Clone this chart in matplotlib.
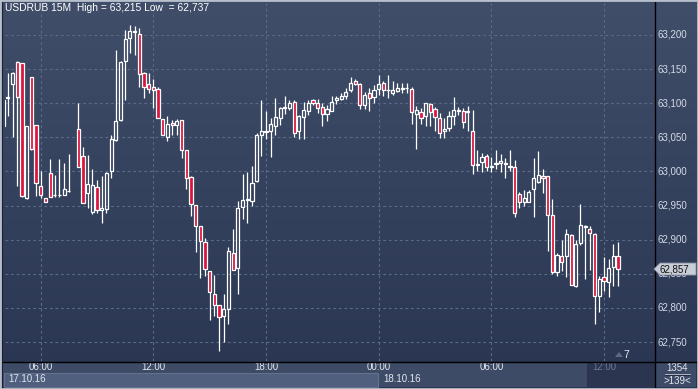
"""
USDRUB 15M candlestick chart, 17.10.16 - 18.10.16
"""

import numpy as np
import matplotlib.pyplot as plt
from matplotlib.patches import Rectangle, Polygon
from matplotlib.lines import Line2D
from matplotlib.transforms import blended_transform_factory

nan = np.nan

opens = [63.104, 63.108, 63.128, 63.161, 63.159, 62.961, 63.138, 63.068, 62.979, 62.961,
         62.998, 62.965, 62.965, 62.965, 62.971, nan, 63.062, 63.023, 62.968, 62.941,
         62.977, 62.944, 62.945, 63.000, 63.046, 63.075, 63.162, 63.195, 63.205, 63.202,
         63.144, 63.128, 63.124, 63.121, 63.077, 63.050, 63.071, 63.068, 63.076, 63.031,
         62.992, 62.951, 62.920, 62.897, 62.854, 62.821, 62.804, 62.788, 62.799, 62.881,
         62.859, 62.948, 62.958, 62.956, 62.986, 63.054, 63.058, 63.059, 63.067, 63.078,
         63.093, 63.093, 63.102, 63.059, 63.080, 63.089, 63.104, 63.100, 63.094, 63.084,
         63.089, 63.104, 63.106, 63.110, 63.119, 63.132, 63.128, 63.098, 63.115, 63.109,
         63.121, 63.129, 63.119, 63.115, 63.118, 63.121, 63.122, 63.121, 63.084, 63.087,
         63.081, 63.099, 63.091, 63.078, 63.060, 63.064, 63.081, 63.090, 63.088, 63.087,
         63.060, 63.010, 63.014, 63.022, 63.007, 63.011, 63.012, 63.012, 63.008, 63.007,
         62.967, 62.955, 62.955, 62.974, 62.984, 62.994, 62.994, 62.936, 62.853, 62.876,
         62.876, 62.907, 62.832, 62.895, 62.919, 62.916, 62.909, 62.817, 62.846, 62.838,
         62.860, 62.876]

highs = [63.104, 63.145, 63.146, 63.162, 63.159, 63.066, 63.138, 63.068, 63.000, 62.961,
         63.018, 62.995, 63.018, 63.013, 63.026, nan, 63.100, 63.036, 63.024, 63.003,
         62.987, 62.994, 62.999, 63.054, 63.178, 63.162, 63.207, 63.215, 63.213, 63.210,
         63.146, 63.144, 63.135, 63.124, 63.077, 63.082, 63.076, 63.077, 63.076, 63.031,
         62.994, 62.951, 62.920, 62.903, 62.854, 62.848, 62.805, 62.820, 62.890, 62.915,
         62.957, 62.997, 62.999, 63.008, 63.057, 63.104, 63.088, 63.079, 63.107, 63.095,
         63.111, 63.104, 63.105, 63.083, 63.102, 63.105, 63.106, 63.106, 63.100, 63.098,
         63.110, 63.111, 63.115, 63.123, 63.138, 63.135, 63.129, 63.116, 63.122, 63.127,
         63.142, 63.132, 63.142, 63.133, 63.129, 63.130, 63.130, 63.124, 63.096, 63.093,
         63.101, 63.101, 63.095, 63.085, 63.078, 63.089, 63.109, 63.095, 63.093, 63.096,
         63.090, 63.031, 63.027, 63.025, 63.021, 63.032, 63.026, 63.019, 63.032, 63.017,
         62.970, 62.973, 62.973, 63.019, 63.030, 63.003, 62.994, 62.959, 62.881, 62.900,
         62.915, 62.908, 62.899, 62.953, 62.922, 62.920, 62.910, 62.847, 62.875, 62.871,
         62.893, 62.897]

lows = [63.066, 63.082, 63.050, 62.978, 62.962, 62.960, 63.031, 62.964, 62.961, 62.955,
        62.963, 62.963, 62.963, 62.965, 62.970, nan, 63.007, 62.954, 62.947, 62.938,
        62.939, 62.924, 62.939, 62.991, 63.044, 63.074, 63.105, 63.174, 63.171, 63.124,
        63.108, 63.115, 63.093, 63.078, 63.053, 63.044, 63.054, 63.054, 63.020, 62.974,
        62.935, 62.882, 62.844, 62.847, 62.782, 62.788, 62.737, 62.750, 62.777, 62.855,
        62.820, 62.931, 62.925, 62.949, 62.985, 63.023, 63.048, 63.021, 63.054, 63.068,
        63.084, 63.090, 63.051, 63.048, 63.047, 63.083, 63.097, 63.086, 63.067, 63.074,
        63.089, 63.099, 63.105, 63.106, 63.117, 63.127, 63.091, 63.091, 63.088, 63.101,
        63.112, 63.111, 63.108, 63.112, 63.116, 63.115, 63.115, 63.070, 63.033, 63.069,
        63.066, 63.067, 63.060, 63.049, 63.049, 63.059, 63.068, 63.083, 63.064, 63.060,
        62.996, 63.000, 62.999, 63.000, 62.999, 63.003, 62.999, 62.990, 63.000, 62.933,
        62.946, 62.949, 62.955, 62.933, 62.983, 62.969, 62.883, 62.849, 62.847, 62.854,
        62.845, 62.833, 62.831, 62.892, 62.843, 62.855, 62.776, 62.794, 62.825, 62.816,
        62.832, 62.832]

closes = [63.066, 63.109, 63.145, 63.109, 62.964, 63.066, 63.033, 62.983, 62.965, 62.955,
          62.963, 62.966, 62.966, 62.974, 62.972, nan, 63.007, 62.954, 62.982, 62.980,
          62.944, 62.946, 62.998, 63.047, 63.074, 63.161, 63.194, 63.206, 63.206, 63.143,
          63.124, 63.121, 63.119, 63.079, 63.053, 63.069, 63.068, 63.074, 63.032, 62.991,
          62.952, 62.920, 62.898, 62.857, 62.824, 62.804, 62.786, 62.799, 62.884, 62.856,
          62.947, 62.958, 62.959, 62.983, 63.054, 63.060, 63.060, 63.069, 63.080, 63.093,
          63.094, 63.100, 63.056, 63.081, 63.090, 63.100, 63.100, 63.093, 63.084, 63.091,
          63.102, 63.108, 63.111, 63.116, 63.130, 63.128, 63.098, 63.112, 63.107, 63.120,
          63.128, 63.119, 63.120, 63.119, 63.122, 63.122, 63.123, 63.087, 63.090, 63.078,
          63.100, 63.087, 63.080, 63.056, 63.062, 63.081, 63.090, 63.089, 63.072, 63.088,
          63.009, 63.011, 63.021, 63.007, 63.008, 63.012, 63.016, 63.011, 63.007, 62.939,
          62.955, 62.961, 62.970, 62.991, 62.995, 62.991, 62.936, 62.852, 62.877, 62.868,
          62.909, 62.833, 62.894, 62.921, 62.920, 62.910, 62.817, 62.843, 62.840, 62.859,
          62.876, 62.857]

price_ticks = [62.75, 62.80, 62.85, 62.90, 62.95, 63.00, 63.05, 63.10, 63.15, 63.20]
time_idx = [8, 32, 56, 80, 104, 128]
time_labels = ["06:00", "12:00", "18:00", "00:00", "06:00", "12:00"]
date_idx = [0, 80]
date_labels = ["17.10.16", "18.10.16"]
title = "USDRUB 15M  High = 63,215 Low  = 62,737"
last_price = 62.857
bars_total = "1354"
bars_shown = ">139<"
RED = "#dc143c"

W, H = 698, 389
FONT = "Liberation Sans"


def fx(px):
    return px / W


def fy(py):
    return 1 - py / H


def fmt(p):
    return f"{p:.3f}".replace(".", ",")


def main():
    fig = plt.figure(figsize=(W / 100, H / 100), dpi=100)

    # background gradient over the whole picture
    bg = fig.add_axes([0, 0, 1, 1], zorder=-5)
    top = np.array([64, 78, 105]) / 255
    bot = np.array([41, 53, 81]) / 255
    t = np.linspace(0, 1, 256)[:, None]
    grad = top + (bot - top) * t
    bg.imshow(grad[:, None, :].repeat(2, axis=1), aspect="auto",
              extent=[0, 1, 0, 1])
    bg.set_axis_off()

    ax = fig.add_axes([fx(5), fy(361), fx(654 - 5), (361 - 3) / H])
    ax.set_facecolor("none")
    ax.set_xlim(0.39, 138.66)
    ax.set_ylim(62.7222, 63.2469)
    for s in ax.spines.values():
        s.set_visible(False)
    ax.set_xticks([])
    ax.set_yticks([])

    # grid
    for p in price_ticks:
        ax.axhline(p, color="#5a6a8a", lw=0.8, ls=(0, (2.5, 2.5)), zorder=1)
    for i in time_idx:
        ax.axvline(i, color="#5a6a8a", lw=0.8, ls=(0, (2.5, 2.5)), zorder=1)

    o = np.array(opens)
    h = np.array(highs)
    lo = np.array(lows)
    c = np.array(closes)
    x = np.arange(len(o))
    ok = ~np.isnan(o)
    x, o, h, lo, c = x[ok], o[ok], h[ok], lo[ok], c[ok]
    btop = np.maximum(o, c)
    bbot = np.minimum(o, c)
    down = c < o

    ax.vlines(x, btop, h, color="white", lw=0.9, zorder=2)
    ax.vlines(x, lo, bbot, color="white", lw=0.9, zorder=2)
    fcs = [RED if d else "none" for d in down]
    ax.bar(x, btop - bbot, bottom=bbot, width=0.68, color=fcs,
           edgecolor="white", linewidth=0.9, zorder=3)

    # price axis labels on the right (62,850 sits under the last-price tag)
    tr_y = blended_transform_factory(fig.transFigure, ax.transData)
    for p in price_ticks:
        fig.text(fx(658), p, fmt(p), transform=tr_y, color="#d4dae6",
                 fontsize=7, family=FONT, va="center", ha="left", zorder=3)

    # last price tag
    half = 6 * (63.2469 - 62.7222) / 358
    tag = Polygon([[fx(654), last_price], [fx(660), last_price + half],
                   [fx(696), last_price + half], [fx(696), last_price - half],
                   [fx(660), last_price - half]], closed=True,
                  transform=tr_y, fc="#c9cdd6", ec="#8a93a6", lw=0.6, zorder=10)
    fig.add_artist(tag)
    fig.text(fx(659), last_price, fmt(last_price), transform=tr_y,
             color="#111111", fontsize=7, family=FONT, va="center",
             ha="left", zorder=11)

    # time strip
    fig.add_artist(Rectangle((fx(3), fy(387)), fx(651), (387 - 362) / H,
                             fc="#3e4b67", ec="none", zorder=1))
    fig.add_artist(Rectangle((fx(4), fy(386.5)), fx(374), (386.5 - 373) / H,
                             fc="#505f7d", ec="#65738f", lw=0.7, zorder=2))
    fig.add_artist(Rectangle((fx(587), fy(387)), fx(654 - 587), (387 - 362) / H,
                             fc="#2b3550", ec="none", zorder=2))
    fig.add_artist(Rectangle((fx(655), fy(387)), fx(41), (387 - 362) / H,
                             fc="#3e4b67", ec="none", zorder=1))

    tr_x = blended_transform_factory(ax.transData, fig.transFigure)
    for k, (i, lab) in enumerate(zip(time_idx, time_labels)):
        col = "#6c7895" if k == len(time_idx) - 1 else "#e2e6ee"
        fig.text(i, fy(367.5), lab, transform=tr_x, color=col, fontsize=7,
                 family=FONT, ha="center", va="center", zorder=5)
    for i, lab in zip(date_idx, date_labels):
        fig.text(i + 1, fy(379.5), lab, transform=tr_x, color="#e2e6ee",
                 fontsize=7, family=FONT, ha="left", va="center", zorder=5)

    fig.text(fx(677), fy(368), bars_total, color="#e2e6ee", fontsize=7,
             family=FONT, ha="center", va="center", zorder=5)
    fig.add_artist(Line2D([fx(665), fx(690)], [fy(374)] * 2,
                          color="#aeb6c6", lw=0.7, zorder=5))
    fig.add_artist(Line2D([fx(665), fx(690)], [fy(375)] * 2,
                          color="#1c2233", lw=0.5, zorder=5))
    fig.text(fx(677), fy(380.5), bars_shown, color="#e2e6ee", fontsize=7,
             family=FONT, ha="center", va="center", zorder=5)

    fig.add_artist(Polygon([[fx(615), fy(357)], [fx(619), fy(352)],
                            [fx(623), fy(357)]], fc="#5d6a86", ec="none"))
    fig.text(fx(623), fy(355), "7", color="#e8ecf2", fontsize=7.5,
             family=FONT, ha="left", va="center")

    # separators and frame
    fig.add_artist(Line2D([fx(3), fx(697)], [fy(361.5)] * 2, color="black",
                          lw=1.0, zorder=6))
    fig.add_artist(Line2D([fx(654.5)] * 2, [fy(2), fy(387)], color="black",
                          lw=1.0, zorder=6))
    fig.add_artist(Rectangle((0, 0), 1, 1, fc="none", ec="#b7bfcb",
                             lw=2.0, zorder=20))
    fig.add_artist(Line2D([fx(2.2)] * 2, [fy(1.5), fy(387.5)], color="#1c2233",
                          lw=0.8, zorder=19))

    fig.text(fx(5), fy(8), title, color="white", fontsize=7.4, family=FONT,
             ha="left", va="center", zorder=12)

    plt.savefig("out.png", dpi=100)


main()
